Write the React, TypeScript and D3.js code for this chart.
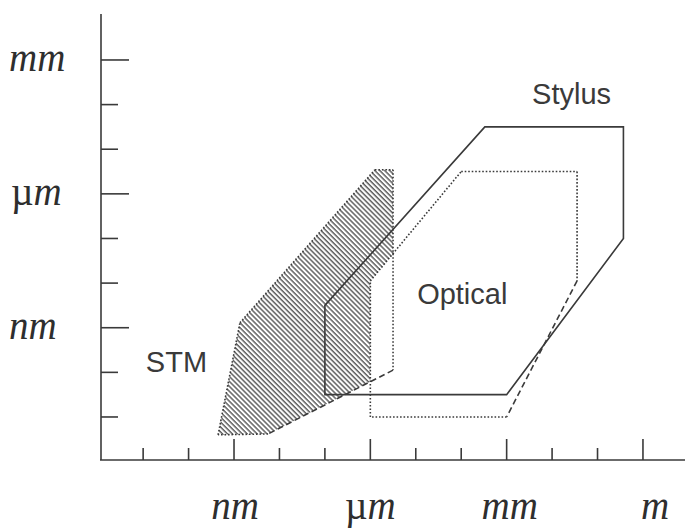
import React from "react";
import * as d3 from "d3";

// All values are log10 of a length in metres.
// Horizontal axis: lateral range; vertical axis: vertical range (resolution).
const xTickExps = [-11, -10, -9, -8, -7, -6, -5, -4, -3, -2, -1, 0];
const yTickExps = [-11, -10, -9, -8, -7, -6, -5, -4, -3];
const xUnitNames = ["nm", "µm", "mm", "m"];
const xUnitExps = [-9, -6, -3, 0];
const yUnitNames = ["nm", "µm", "mm"];
const yUnitExps = [-9, -6, -3];

// Operating regions, corners as [lateral exp, vertical exp]
const stmRegion: [number, number][] = [
  [-5.9, -5.46],
  [-5.5, -5.46],
  [-5.5, -9.95],
  [-8.25, -11.38],
  [-9.35, -11.4],
  [-8.87, -8.89],
];
const opticalRegion: [number, number][] = [
  [-4.0, -5.5],
  [-1.45, -5.5],
  [-1.45, -7.95],
  [-3.0, -11.0],
  [-6.0, -11.0],
  [-6.0, -7.95],
];
const stylusRegion: [number, number][] = [
  [-3.48, -4.5],
  [-0.43, -4.5],
  [-0.43, -7.0],
  [-3.0, -10.5],
  [-7.0, -10.5],
  [-7.0, -8.5],
];

const regionNames = ["Stylus", "Optical", "STM"];
const regionLabelAt: [number, number][] = [
  [-2.44, -3.99],
  [-4.97, -8.47],
  [-10.94, -9.99],
];

// Edge stroke styles (edge i runs from corner i to corner i+1)
const DOT = "1.6 1.9";
const DASH = "6 3.5";
const stmEdgeDash = [DOT, DOT, DASH, DOT, DOT, DOT];
const opticalEdgeDash = [DOT, DOT, DASH, DOT, DOT, DOT];

const W = 685;
const H = 528;
const AXIS_X = 101;
const AXIS_Y = 460;

const x = d3.scaleLinear().domain([-12, 1]).range([97.7, 688.4]);
const y = d3.scaleLinear().domain([-12, -2]).range([461.6, 15.35]);

const line = d3
  .line<[number, number]>()
  .x((d) => x(d[0]))
  .y((d) => y(d[1]));

const ink = "#3a3a3a";
const serif = "'Liberation Serif', 'Times New Roman', serif";
const sans = "'Liberation Sans', Arial, Helvetica, sans-serif";

function UnitText({ name, ...rest }: { name: string; [k: string]: any }) {
  if (name.startsWith("µ")) {
    return (
      <text {...rest}>
        <tspan fontStyle="normal">µ</tspan>
        <tspan fontStyle="italic">{name.slice(1)}</tspan>
      </text>
    );
  }
  return (
    <text {...rest} fontStyle="italic">
      {name}
    </text>
  );
}

function Edges({
  pts,
  dashes,
}: {
  pts: [number, number][];
  dashes: string[];
}) {
  return (
    <g fill="none" stroke={ink} strokeWidth={1.6}>
      {pts.map((p, i) => {
        const q = pts[(i + 1) % pts.length];
        return (
          <path key={i} d={line([p, q]) as string} strokeDasharray={dashes[i]} />
        );
      })}
    </g>
  );
}

export default function App() {
  const xLabelNudge = [1, 0, 3, 12];
  return (
    <svg
      width={W}
      height={H}
      viewBox={`0 0 ${W} ${H}`}
      style={{ position: "absolute", left: 0, top: 0, background: "#fff" }}
    >
      <defs>
        <pattern
          id="hatch"
          patternUnits="userSpaceOnUse"
          width={3.5}
          height={3.5}
          patternTransform="rotate(-45)"
        >
          <rect width={3.5} height={3.5} fill="#fff" />
          <line x1={1} y1={0} x2={1} y2={3.5} stroke="#555" strokeWidth={1.4} />
        </pattern>
      </defs>

      {/* axes */}
      <g stroke={ink} strokeWidth={1.6} fill="none">
        <line x1={AXIS_X} y1={14} x2={AXIS_X} y2={AXIS_Y} />
        <line x1={AXIS_X - 1} y1={AXIS_Y} x2={W} y2={AXIS_Y} />
        {yTickExps.map((e) => (
          <line
            key={`yt${e}`}
            x1={AXIS_X}
            x2={AXIS_X + (yUnitExps.includes(e) ? 28 : 17)}
            y1={y(e)}
            y2={y(e)}
          />
        ))}
        {xTickExps.map((e) => (
          <line
            key={`xt${e}`}
            x1={x(e)}
            x2={x(e)}
            y1={AXIS_Y}
            y2={AXIS_Y - (xUnitExps.includes(e) ? 21 : 12)}
          />
        ))}
      </g>

      {/* axis unit labels */}
      <g fill="#2e2e2e" fontFamily={serif} fontSize={39}>
        {yUnitNames.map((n, i) => (
          <UnitText
            key={`yl${n}`}
            name={n}
            x={n.startsWith("µ") ? 11 : 9}
            y={y(yUnitExps[i]) + 11}
          />
        ))}
        {xUnitNames.map((n, i) => (
          <UnitText
            key={`xl${n}`}
            name={n}
            x={x(xUnitExps[i]) + xLabelNudge[i]}
            y={519}
            textAnchor="middle"
          />
        ))}
      </g>

      {/* STM region: hatched fill */}
      <path d={line(stmRegion) + "Z"} fill="url(#hatch)" stroke="none" />
      {/* optical region sits in front of the STM hatch */}
      <path d={line(opticalRegion) + "Z"} fill="#fff" stroke="none" />
      <Edges pts={stmRegion} dashes={stmEdgeDash} />
      <Edges pts={opticalRegion} dashes={opticalEdgeDash} />
      {/* stylus region */}
      <path
        d={line(stylusRegion) + "Z"}
        fill="none"
        stroke={ink}
        strokeWidth={1.6}
        strokeLinejoin="miter"
      />

      {/* region names */}
      <g fill="#3a3a3a" fontFamily={sans} fontSize={29}>
        {regionNames.map((n, i) => (
          <text key={n} x={x(regionLabelAt[i][0])} y={y(regionLabelAt[i][1])}>
            {n}
          </text>
        ))}
      </g>
    </svg>
  );
}
